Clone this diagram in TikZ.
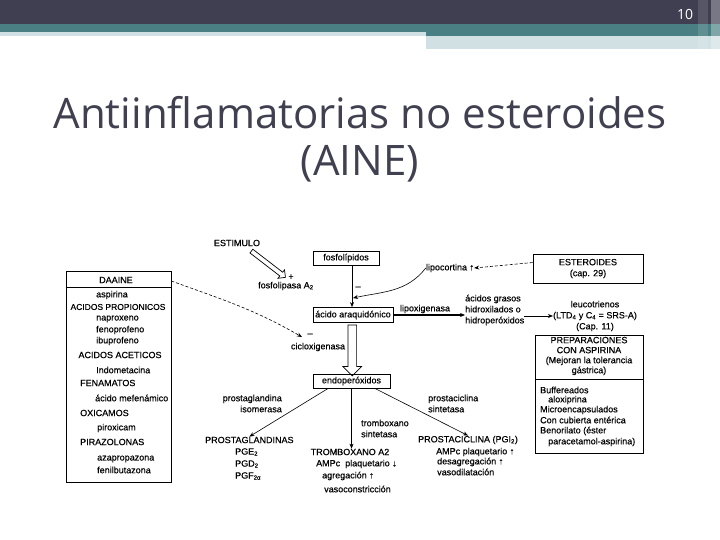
\documentclass[tikz,border=0pt]{standalone}
\usepackage{fontspec}
\setmainfont{Liberation Sans}
\newfontfamily\diag{Liberation Sans}[FakeBold=0.4]
\newfontfamily\titlefont{Open Sans}
\usetikzlibrary{shapes.arrows,arrows.meta,calc}
\definecolor{bardark}{RGB}{63,63,81}
\definecolor{barteal}{RGB}{74,128,131}
\definecolor{barlight}{RGB}{209,224,227}
\definecolor{titlecol}{RGB}{64,64,80}
\begin{document}
\begin{tikzpicture}[x=1pt,y=-1pt,
  t/.style={font=\diag\fontsize{9}{11}\selectfont, inner sep=0pt},
  tt/.style={font=\diag\fontsize{9}{10}\selectfont, inner sep=0pt},
  box/.style={draw, line width=0.8pt, inner sep=0pt},
  arr/.style={-{Stealth[length=5pt,width=4pt]}, line width=0.6pt},
  dsh/.style={dash pattern=on 3pt off 2pt},
  hollow/.style={single arrow, draw, line width=0.7pt, single arrow tip angle=90, single arrow head indent=0pt}]
\useasboundingbox (0,0) rectangle (720,540);
\fill[white] (0,0) rectangle (720,540);
% top bars
\fill[bardark] (0,0) rectangle (720,24);
\fill[barteal] (0,24) rectangle (720,36);
\fill[barlight] (0,32) rectangle (426,36);
\fill[barlight] (426,36) rectangle (720,49);
\fill[white,opacity=0.12] (698,0) rectangle (708,49);
\fill[white,opacity=0.3] (711,0) rectangle (720,49);
\node[text=white, font=\titlefont\fontsize{14}{14}\selectfont, inner sep=0pt] (pg) at (685,14) {10};
% title
\node[font=\titlefont\fontsize{42}{47}\selectfont, text=titlecol, anchor=base, inner sep=0pt] (title1) at (360,129) {Antiinflamatorias no esteroides};
\node[font=\titlefont\fontsize{42}{47}\selectfont, text=titlecol, anchor=base, inner sep=0pt] (title2) at (360,176) {(AINE)};

% stimulus
\node[t] (est) at (237,243) {ESTIMULO};
\coordinate (hs) at (250,250);
\coordinate (he) at (285,277);
\node[hollow, inner sep=2pt, single arrow head extend=3pt, minimum height=43pt, rotate=-37.6] (harr) at ($(hs)!0.5!(he)$) {};
\node[t] (plus) at (291,277) {+};
\node[t, anchor=west] (fla) at (258,286) {fosfolipasa A\textsubscript{2}};

% central column
\node[box, t, minimum width=66pt, minimum height=14pt] (fos) at (346,258) {fosfolípidos};
\node[box, t, minimum width=80pt, minimum height=15pt] (aa) at (353,315) {ácido araquidónico};
\draw[arr] (fos.south -| 352,0) -- (aa.north -| 352,0);
\node[t] (m1) at (358,288) {–};
\node[t] (lipo) at (450,268) {lipocortina ↑};
\coordinate (lipt) at (353,298);
\draw[arr] (lipo.west) to[out=232, in=12] (lipt);

\node[box, t, minimum width=110pt, minimum height=29pt, align=center] (ester) at (588,268.5) {ESTEROIDES\\(cap. 29)};
\draw[arr, dsh] ($(ester.north west)!0.3!(ester.south west)$) -- (lipo.east);

\node[t] (lox) at (425,309) {lipoxigenasa};
\node[t, anchor=west, align=left] (ag) at (465,310) {ácidos grasos\\hidroxilados o\\hidroperóxidos};
\draw[arr, line width=1.1pt] (aa.east) -- (aa.east -| ag.west);
\node[t, align=center] (lt) at (595,316) {leucotrienos\\(LTD\textsubscript{4} y C\textsubscript{4} = SRS-A)\\(Cap. 11)};
\draw[arr] (ag.east |- lt.west) -- (lt.west);

% DAAINE box
\node[box, minimum width=105pt, minimum height=211pt] (daa) at (118.5,376.5) {};
\draw[line width=0.8pt] (daa.north west |- 0,287) -- (daa.north east |- 0,287);
\node[t] (daaine) at (116,280) {DAAINE};
\node[t, anchor=west] (asp) at (96,295) {aspirina};
\node[t, font=\diag\fontsize{8.5}{11}\selectfont] (prop) at (118,307) {ACIDOS PROPIONICOS};
\node[t, anchor=west] (nap) at (96,319) {naproxeno};
\node[t, anchor=west] (fen) at (96,330) {fenoprofeno};
\node[t, anchor=west] (ibu) at (96,341) {ibuprofeno};
\node[t] (acet) at (120,355) {ACIDOS ACETICOS};
\node[t, anchor=west] (indo) at (96,370) {Indometacina};
\node[t, anchor=west] (fena) at (80,383) {FENAMATOS};
\node[t, anchor=west] (mef) at (95,398) {ácido mefenámico};
\node[t, anchor=west] (oxi) at (80,413) {OXICAMOS};
\node[t, anchor=west] (pir) at (97,428) {piroxicam};
\node[t, anchor=west] (pira) at (80,442) {PIRAZOLONAS};
\node[t, anchor=west] (aza) at (97,459) {azapropazona};
\node[t, anchor=west] (fbz) at (97,470) {fenilbutazona};

% cyclooxygenase inhibition
\coordinate (coxt) at (302,337);
\draw[arr, dsh] (daa.north east |- 0,281) to[out=-20, in=150] (coxt);
\node[t] (m2) at (310,335) {–};
\node[t] (cox) at (318,347) {cicloxigenasa};

\node[box, t, minimum width=77pt, minimum height=14pt] (endo) at (351.5,381) {endoperóxidos};
\node[hollow, inner sep=4pt, single arrow head extend=5pt, minimum height=51pt, rotate=-90] (darr) at ($(aa.south)!0.5!(endo.north)$) {};

% products
\node[t, anchor=west] (pgs) at (205,440) {PROSTAGLANDINAS};
\node[t, anchor=west] (pge) at (235,452) {PGE\textsubscript{2}};
\node[t, anchor=west] (pgd) at (235,464) {PGD\textsubscript{2}};
\node[t, anchor=west] (pgf) at (235,476) {PGF\textsubscript{2α}};
\node[t, align=right, anchor=east] (pgi) at (282,403.5) {prostaglandina\\isomerasa};
\draw[arr] ($(endo.south west)!0.2!(endo.south east)$) -- (pgs.north);

\node[t] (tbx) at (350,452) {TROMBOXANO A2};
\node[t, align=left, anchor=west] (txs) at (361,428.5) {tromboxano\\sintetasa};
\draw[arr] (endo.south) -- (endo.south |- tbx.north);
\node[t, anchor=west] (amp1) at (316,464) {AMPc\ \ plaquetario ↓};
\node[t, anchor=west] (agr) at (322,476) {agregación ↑};
\node[t, anchor=west] (vcon) at (324,489) {vasoconstricción};

\node[t, anchor=west] (pci) at (418,440) {PROSTACICLINA (PGI\textsubscript{2})};
\node[t, align=left, anchor=west] (pcs) at (428,403.5) {prostaciclina\\sintetasa};
\draw[arr] ($(endo.south west)!0.8!(endo.south east)$) -- (pci.north);
\node[t, anchor=west] (amp2) at (436,452) {AMPc plaquetario ↑};
\node[t, anchor=west] (desag) at (437,462) {desagregación ↑};
\node[t, anchor=west] (vdil) at (437,472) {vasodilatación};

% preparaciones box
\node[box, minimum width=108pt, minimum height=118pt] (prep) at (589,394) {};
\node[tt, align=center] (preph) at (589,356) {PREPARACIONES\\CON ASPIRINA\\(Mejoran la tolerancia\\gástrica)};
\draw[line width=0.8pt] (prep.west |- 0,379) -- (prep.east |- 0,379);
\node[t, anchor=west] (buf) at (540,390) {Buffereados};
\node[t, anchor=west] (alox) at (548,400) {aloxiprina};
\node[t, anchor=west] (micro) at (540,410) {Microencapsulados};
\node[t, anchor=west] (cub) at (540,420) {Con cubierta entérica};
\node[t, anchor=west] (beno) at (540,431) {Benorilato (éster};
\node[t, anchor=west] (para) at (548,442) {paracetamol-aspirina)};
\end{tikzpicture}
\end{document}
